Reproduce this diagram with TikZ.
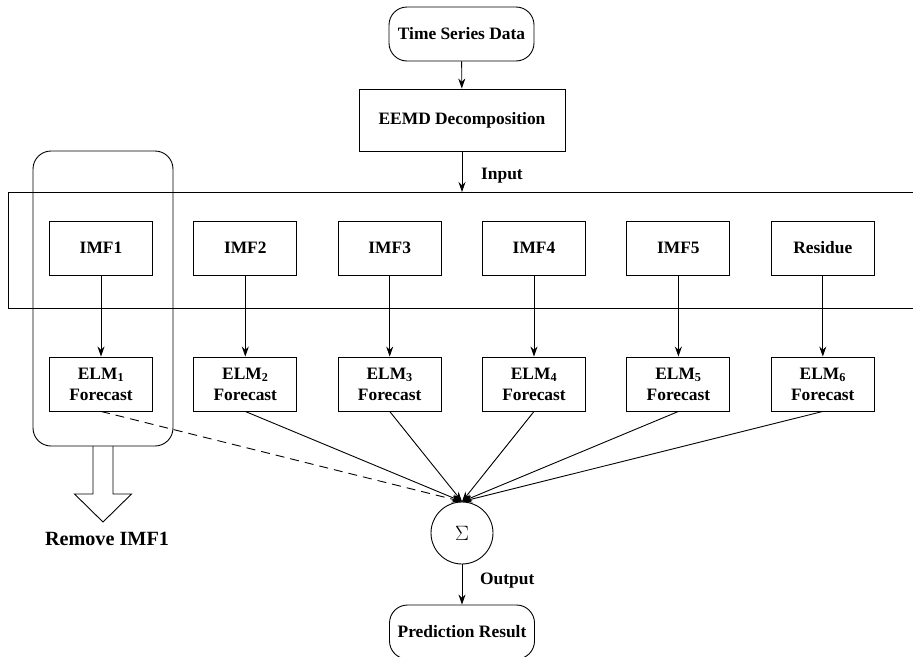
\documentclass[tikz,border=0pt]{standalone}
\usepackage{fontspec}
\setmainfont{Liberation Serif}
\usepackage{tikz}
\usetikzlibrary{shapes}
\usetikzlibrary{shapes.geometric}
\usetikzlibrary{arrows.meta}

\tikzset{
	box/.style={draw, rectangle, line width=0.9pt, minimum width=103pt, minimum height=54pt, inner sep=0pt, align=center, font=\fontsize{17.4}{21}\selectfont\bfseries},
	term/.style={box, rounded corners=18pt, minimum width=145pt},
	lbl/.style={anchor=west, inner sep=0pt, font=\fontsize{17.4}{21}\selectfont\bfseries},
	arr/.style={-{Stealth[length=10pt,width=7pt]}, line width=0.9pt}
}

\begin{document}
\begin{tikzpicture}[x=1pt, y=-1pt]
				\useasboundingbox (0,0) rectangle (913,656);
				\clip (0,0) rectangle (913,656);
				\node[term] (tsd) at (461.5,34) {Time Series Data};
				\node[box, minimum width=206pt, minimum height=62pt] (eemd) at (462,120) {EEMD Decomposition};
				\draw[line width=0.9pt] (920,192) -- (8,192) -- (8,308) -- (920,308);
				\coordinate (in) at (462,192);
				\node[box] (imf1) at (101,248) {IMF1};
				\node[box] (imf2) at (245.3,248) {IMF2};
				\node[box] (imf3) at (389.7,248) {IMF3};
				\node[box] (imf4) at (534,248) {IMF4};
				\node[box] (imf5) at (678.4,248) {IMF5};
				\node[box] (res) at (822.8,248) {Residue};
				\node[box] (elm1) at (101,384) {ELM\textsubscript{1}\\Forecast};
				\node[box] (elm2) at (245.3,384) {ELM\textsubscript{2}\\Forecast};
				\node[box] (elm3) at (389.7,384) {ELM\textsubscript{3}\\Forecast};
				\node[box] (elm4) at (534,384) {ELM\textsubscript{4}\\Forecast};
				\node[box] (elm5) at (678.4,384) {ELM\textsubscript{5}\\Forecast};
				\node[box] (elm6) at (822.8,384) {ELM\textsubscript{6}\\Forecast};
				\draw[line width=0.9pt, rounded corners=18pt] (33,151) rectangle (173,446);
				\draw[line width=0.9pt] (93,446) -- (93,494) -- (74.5,494) -- (103,522) -- (131.5,494) -- (113,494) -- (113,446);
				\node[font=\fontsize{20.2}{24}\selectfont\bfseries, inner sep=0pt] (rm) at (107,539) {Remove IMF1};
				\node[circle, draw, line width=0.9pt, minimum size=62pt, inner sep=0pt, font=\fontsize{20}{24}\selectfont] (sum) at (462,533) {$\Sigma$};
				\node[term] (pred) at (462,632) {Prediction Result};
				\draw[arr] (tsd) -- (eemd);
				\draw[arr] (eemd) -- (in);
				\node[lbl] (inlbl) at (481,176) {Input};
				\draw[arr] (imf1) -- (elm1);\draw[arr] (imf2) -- (elm2);\draw[arr] (imf3) -- (elm3);\draw[arr] (imf4) -- (elm4);\draw[arr] (imf5) -- (elm5);\draw[arr] (res) -- (elm6);
				\draw[arr, dashed, dash pattern=on 9pt off 6pt] (elm1.south) -- (sum.north);
				\draw[arr] (elm2.south) -- (sum.north);\draw[arr] (elm3.south) -- (sum.north);\draw[arr] (elm4.south) -- (sum.north);\draw[arr] (elm5.south) -- (sum.north);\draw[arr] (elm6.south) -- (sum.north);
				\draw[arr] (sum) -- (pred);
				\node[lbl] (outlbl) at (480,581) {Output};
			\end{tikzpicture}
\end{document}
